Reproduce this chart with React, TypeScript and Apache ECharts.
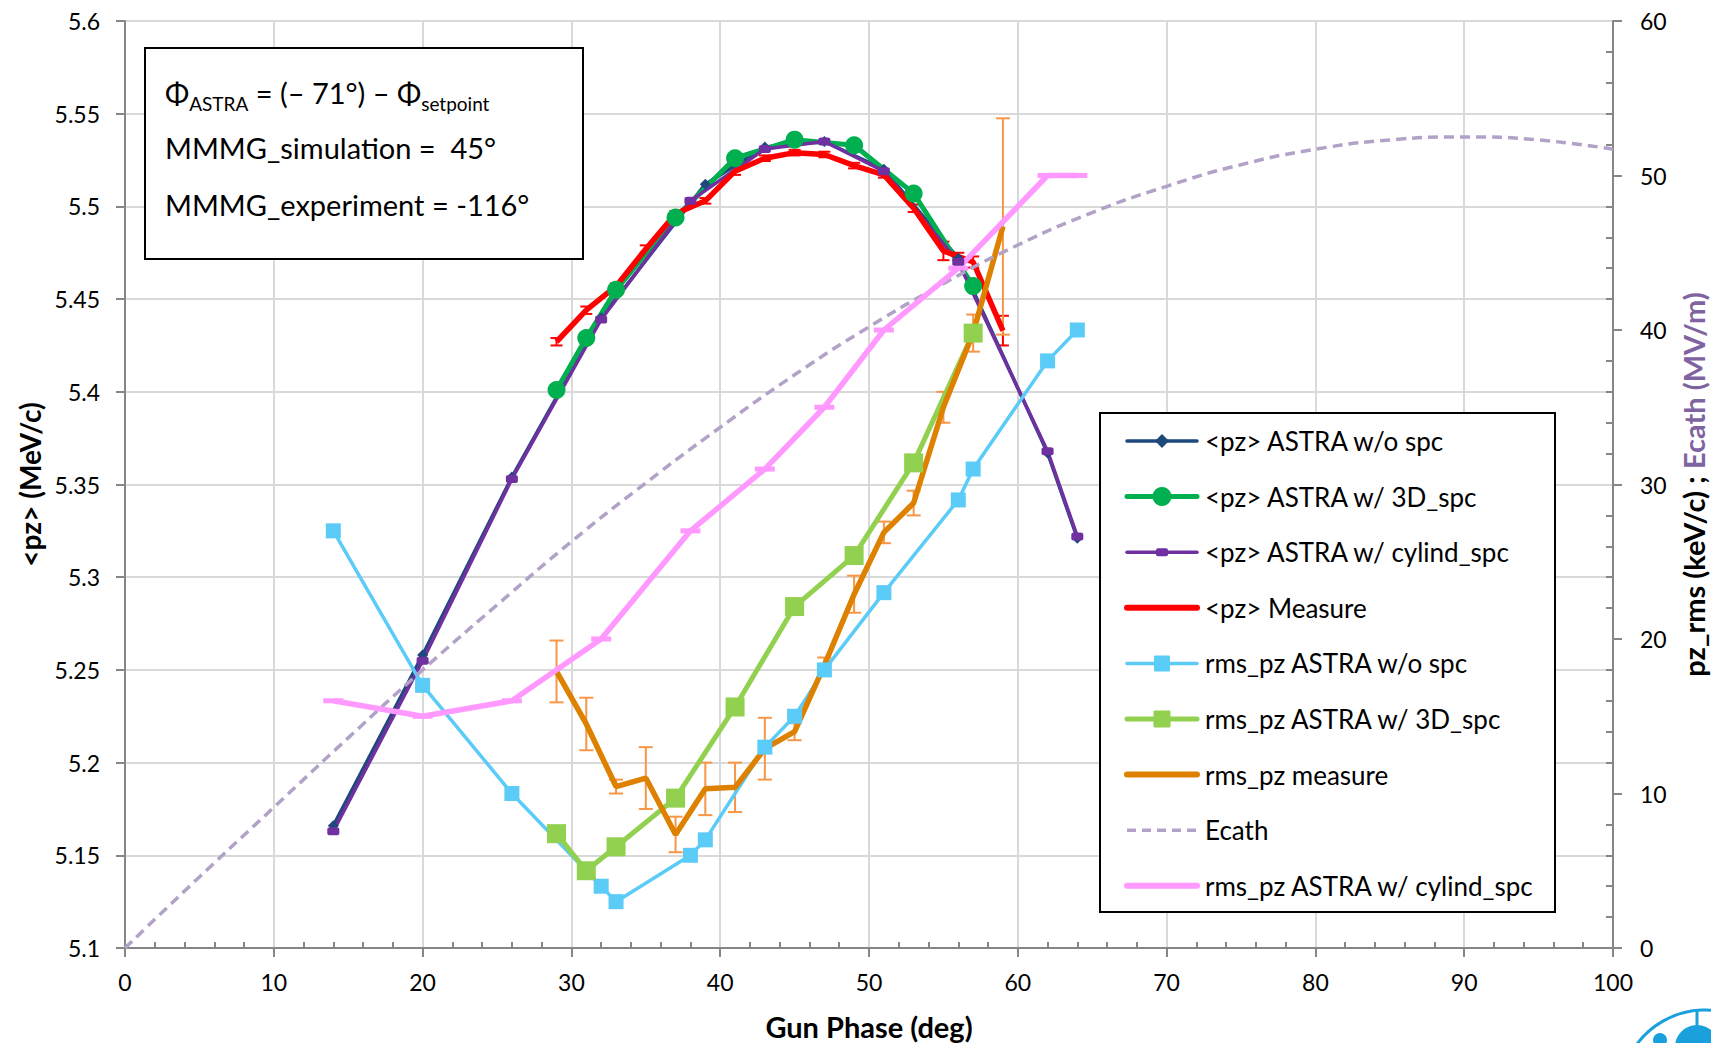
import React, { useEffect, useRef } from "react";
import * as echarts from "echarts";

const W = 1711;
const H = 1043;

// ---------- data ----------
const pzNoSpcX = [14, 20, 26, 32, 39, 43, 47, 51, 56, 62, 64];
const pzNoSpcY = [5.166, 5.258, 5.354, 5.44, 5.512, 5.532, 5.535, 5.52, 5.472, 5.367, 5.321];

const pz3dX = [29, 31, 33, 37, 41, 45, 49, 53, 57];
const pz3dY = [5.401, 5.429, 5.455, 5.494, 5.526, 5.536, 5.533, 5.507, 5.457];

const pzCylX = [14, 20, 26, 32, 38, 43, 47, 51, 56, 62, 64];
const pzCylY = [5.163, 5.255, 5.353, 5.439, 5.503, 5.531, 5.535, 5.519, 5.47, 5.368, 5.322];

const pzMeasX = [29, 31, 33, 35, 37, 39, 41, 43, 45, 47, 49, 51, 53, 55, 56, 57, 59];
const pzMeasY = [5.427, 5.444, 5.457, 5.477, 5.496, 5.503, 5.519, 5.526, 5.529, 5.528, 5.522, 5.517, 5.499, 5.476, 5.473, 5.47, 5.433];
const pzMeasErr = [0.002, 0.002, 0.0015, 0.002, 0.0015, 0.0015, 0.002, 0.0015, 0.0015, 0.0015, 0.0015, 0.0015, 0.002, 0.005, 0.002, 0.003, 0.008];

const rmsNoSpcX = [14, 20, 26, 32, 33, 38, 39, 43, 45, 47, 51, 56, 57, 62, 64];
const rmsNoSpcY = [27.0, 17.0, 10.0, 4.0, 3.0, 6.0, 7.0, 13.0, 15.0, 18.0, 23.0, 29.0, 31.0, 38.0, 40.0];

const rms3dX = [29, 31, 33, 37, 41, 45, 49, 53, 57];
const rms3dY = [7.4, 5.0, 6.55, 9.7, 15.6, 22.1, 25.4, 31.4, 39.8];

const rmsMeasX = [29, 31, 33, 35, 37, 39, 41, 43, 45, 47, 49, 51, 53, 55, 57, 59];
const rmsMeasY = [17.9, 14.5, 10.45, 11.0, 7.35, 10.3, 10.4, 12.9, 14.0, 18.3, 22.9, 26.9, 28.8, 35.0, 39.8, 46.7];
const rmsMeasErr = [2.0, 1.7, 0.45, 2.0, 1.15, 1.7, 1.6, 2.0, 0.55, 0.5, 1.2, 0.7, 0.8, 1.0, 1.2, 7.0];

const ecathX = [0, 5, 10, 15, 20, 25, 30, 35, 40, 45, 50, 55, 60, 65, 70, 75, 80, 85, 90, 95, 100];
const ecathY = [0, 4.6, 9.1, 13.6, 18.0, 22.2, 26.3, 30.1, 33.7, 37.1, 40.2, 43.0, 45.5, 47.6, 49.3, 50.7, 51.7, 52.3, 52.5, 52.3, 51.7];

const rmsCylX = [14, 20, 26, 32, 38, 43, 47, 51, 56, 62, 64];
const rmsCylY = [16, 15, 16, 20, 27, 31, 35, 40, 44, 50, 50];

const xRange = { min: 0, max: 100, step: 10 };
const leftRange = { min: 5.1, max: 5.6, step: 0.05 };
const rightRange = { min: 0, max: 60, step: 10 };

const legendNames = [
  "<pz> ASTRA w/o spc",
  "<pz> ASTRA w/ 3D_spc",
  "<pz> ASTRA w/ cylind_spc",
  "<pz> Measure",
  "rms_pz ASTRA w/o spc",
  "rms_pz ASTRA w/ 3D_spc",
  "rms_pz measure",
  "Ecath",
  "rms_pz ASTRA w/ cylind_spc",
];

// ---------- styles ----------
const FONT = "Lato";
const C = {
  navy: "#1F497D",
  green: "#00B050",
  purple: "#7030A0",
  red: "#FF0000",
  lblue: "#5BCBF8",
  lgreen: "#92D050",
  orange: "#DE8000",
  orangeErr: "#F79646",
  ecath: "#B3A2C7",
  pink: "#FF99FF",
  axis: "#868686",
  grid: "#D9D9D9",
  ecathTitle: "#8064A2",
};

const pair = (xs: number[], ys: number[]) => xs.map((x, i) => [x, ys[i]]);

function errorBars(xs: number[], ys: number[], errs: number[], color: string, width: number, cap: number, yAxisIndex: number) {
  return {
    type: "custom",
    yAxisIndex,
    silent: true,
    data: xs.map((x, i) => [x, ys[i] - errs[i], ys[i] + errs[i]]),
    encode: { x: 0, y: [1, 2] },
    renderItem: (params: any, api: any) => {
      const lo = api.coord([api.value(0), api.value(1)]);
      const hi = api.coord([api.value(0), api.value(2)]);
      const st = { stroke: color, lineWidth: width, fill: null };
      return {
        type: "group",
        children: [
          { type: "line", shape: { x1: lo[0], y1: lo[1], x2: hi[0], y2: hi[1] }, style: st },
          { type: "line", shape: { x1: lo[0] - cap, y1: lo[1], x2: lo[0] + cap, y2: lo[1] }, style: st },
          { type: "line", shape: { x1: hi[0] - cap, y1: hi[1], x2: hi[0] + cap, y2: hi[1] }, style: st },
        ],
      };
    },
  };
}

const ZTOP = 100;

function buildLegend() {
  const x1 = 1127;
  const x2 = 1197;
  const xm = 1162;
  const y0 = 441;
  const dy = 55.6;
  const defs = [
    { color: C.navy, lw: 3.5, marker: "diamond", size: 7 },
    { color: C.green, lw: 5, marker: "circle", size: 9.5 },
    { color: C.purple, lw: 3.5, marker: "smallrect", size: 0 },
    { color: C.red, lw: 6, marker: "none", size: 0 },
    { color: C.lblue, lw: 3.5, marker: "square", size: 8 },
    { color: C.lgreen, lw: 5, marker: "square", size: 8.5 },
    { color: C.orange, lw: 6, marker: "none", size: 0 },
    { color: C.ecath, lw: 3.5, marker: "none", size: 0, dash: [9, 6] },
    { color: C.pink, lw: 6, marker: "none", size: 0 },
  ];
  const children: any[] = [
    {
      type: "rect",
      z: ZTOP,
      shape: { x: 1100, y: 413, width: 455, height: 499 },
      style: { fill: "#fff", stroke: "#000", lineWidth: 2 },
    },
  ];
  defs.forEach((d: any, i) => {
    const y = y0 + i * dy;
    children.push({
      type: "line",
      z: ZTOP + 1,
      shape: { x1, y1: y, x2, y2: y },
      style: { stroke: d.color, lineWidth: d.lw, lineCap: d.dash ? "butt" : "round", lineDash: d.dash || null },
    });
    if (d.marker === "diamond") {
      children.push({
        type: "polygon",
        z: ZTOP + 2,
        shape: { points: [[xm, y - d.size], [xm + d.size, y], [xm, y + d.size], [xm - d.size, y]] },
        style: { fill: d.color },
      });
    } else if (d.marker === "circle") {
      children.push({ type: "circle", z: ZTOP + 2, shape: { cx: xm, cy: y, r: d.size }, style: { fill: d.color } });
    } else if (d.marker === "square") {
      children.push({
        type: "rect",
        z: ZTOP + 2,
        shape: { x: xm - d.size, y: y - d.size, width: 2 * d.size, height: 2 * d.size, r: 1 },
        style: { fill: d.color },
      });
    } else if (d.marker === "smallrect") {
      children.push({
        type: "rect",
        z: ZTOP + 2,
        shape: { x: xm - 6, y: y - 4, width: 12, height: 8, r: 2 },
        style: { fill: d.color },
      });
    }
    children.push({
      type: "text",
      z: ZTOP + 2,
      x: 1205,
      y,
      style: {
        text: legendNames[i],
        fontFamily: FONT,
        fontSize: 26,
        fill: "#000",
        align: "left",
        verticalAlign: "middle",
      },
    });
  });
  return { type: "group", children };
}

function buildNote() {
  const base = { fontFamily: FONT, fontSize: 29, fill: "#000", align: "left", verticalAlign: "middle" };
  return {
    type: "group",
    children: [
      {
        type: "rect",
        z: ZTOP,
        shape: { x: 145, y: 48, width: 438, height: 211 },
        style: { fill: "#fff", stroke: "#000", lineWidth: 2 },
      },
      {
        type: "text",
        z: ZTOP + 1,
        x: 165,
        y: 92,
        style: {
          ...base,
          text: "{m|Φ}{s|ASTRA}{m| = (– 71°) – Φ}{s|setpoint}",
          rich: {
            m: { fontFamily: FONT, fontSize: 29, fill: "#000", lineHeight: 36 },
            s: { fontFamily: FONT, fontSize: 19, fill: "#000", lineHeight: 21, padding: [23, 0, 0, 0] },
          },
        },
      },
      { type: "text", z: ZTOP + 1, x: 165, y: 147, style: { ...base, text: "MMMG_simulation =  45°" } },
      { type: "text", z: ZTOP + 1, x: 165, y: 204, style: { ...base, text: "MMMG_experiment = -116°" } },
    ],
  };
}

function buildLogo() {
  const blue = "#1AA0DC";
  return {
    type: "group",
    children: [
      { type: "circle", z: ZTOP, shape: { cx: 1705, cy: 1095, r: 85 }, style: { fill: null, stroke: blue, lineWidth: 3 } },
      { type: "circle", z: ZTOP, shape: { cx: 1697, cy: 1047, r: 22 }, style: { fill: blue } },
      { type: "line", z: ZTOP, shape: { x1: 1697, y1: 1010, x2: 1697, y2: 1027 }, style: { stroke: blue, lineWidth: 3 } },
      { type: "circle", z: ZTOP, shape: { cx: 1660, cy: 1040, r: 7 }, style: { fill: blue } },
    ],
  };
}

const titleBase = { fontFamily: FONT, fontWeight: "bold", color: "#000" };
const tickLine = { color: C.axis, width: 2 };

const option: any = {
  animation: false,
  backgroundColor: "#fff",
  textStyle: { fontFamily: FONT },
  grid: { left: 125, right: 98, top: 21, bottom: 95, containLabel: false, outerBoundsMode: "none" },
  xAxis: [
    {
      type: "value",
      min: xRange.min,
      max: xRange.max,
      interval: xRange.step,
      position: "bottom",
      axisLine: { show: true, onZero: false, lineStyle: tickLine },
      axisTick: { show: true, inside: false, length: 9, lineStyle: tickLine },
      axisLabel: { color: "#000", fontSize: 23, margin: 22, fontFamily: FONT },
      splitLine: { show: true, lineStyle: { color: C.grid, width: 2 } },
      name: "Gun Phase (deg)",
      nameLocation: "middle",
      nameGap: 64,
      nameTextStyle: { ...titleBase, fontSize: 29 },
    },
    {
      type: "value",
      min: xRange.min,
      max: xRange.max,
      interval: xRange.step,
      position: "bottom",
      axisLine: { show: false, onZero: false },
      axisTick: { show: false, inside: true },
      minorTick: { show: true, splitNumber: 5, length: 6, lineStyle: tickLine },
      axisLabel: { show: false },
      splitLine: { show: false },
    },
  ],
  yAxis: [
    {
      type: "value",
      min: leftRange.min,
      max: leftRange.max,
      interval: leftRange.step,
      position: "left",
      axisLine: { show: true, onZero: false, lineStyle: tickLine },
      axisTick: { show: true, inside: false, length: 9, lineStyle: tickLine },
      axisLabel: {
        color: "#000",
        fontSize: 23,
        margin: 25,
        fontFamily: FONT,
        formatter: (v: number) => String(+v.toFixed(2)),
      },
      splitLine: { show: true, lineStyle: { color: C.grid, width: 2 } },
      name: "<pz> (MeV/c)",
      nameLocation: "middle",
      nameRotate: 90,
      nameGap: 78,
      nameTextStyle: { ...titleBase, fontSize: 28 },
    },
    {
      type: "value",
      min: rightRange.min,
      max: rightRange.max,
      interval: rightRange.step,
      position: "right",
      axisLine: { show: true, onZero: false, lineStyle: tickLine },
      axisTick: { show: true, inside: false, length: 9, lineStyle: tickLine },
      axisLabel: { color: "#000", fontSize: 23, margin: 27, fontFamily: FONT },
      splitLine: { show: false },
      name: "{a|pz_rms (keV/c) ; }{b|Ecath (MV/m)}",
      nameLocation: "middle",
      nameRotate: 90,
      nameGap: 66,
      nameTextStyle: {
        ...titleBase,
        fontSize: 29,
        rich: {
          a: { ...titleBase, fontSize: 29 },
          b: { ...titleBase, fontSize: 29, color: C.ecathTitle },
        },
      },
    },
    {
      type: "value",
      min: rightRange.min,
      max: rightRange.max,
      interval: rightRange.step,
      position: "right",
      axisLine: { show: false, onZero: false },
      axisTick: { show: false, inside: true },
      minorTick: { show: true, splitNumber: 5, length: 7, lineStyle: tickLine },
      axisLabel: { show: false },
      splitLine: { show: false },
    },
  ],
  series: [
    {
      name: legendNames[0],
      type: "line",
      yAxisIndex: 0,
      data: pair(pzNoSpcX, pzNoSpcY),
      symbol: "diamond",
      symbolSize: 11,
      itemStyle: { color: C.navy },
      lineStyle: { color: C.navy, width: 3.5 },
    },
    {
      name: legendNames[1],
      type: "line",
      yAxisIndex: 0,
      data: pair(pz3dX, pz3dY),
      symbol: "circle",
      symbolSize: 18,
      itemStyle: { color: C.green },
      lineStyle: { color: C.green, width: 5 },
    },
    {
      name: legendNames[2],
      type: "line",
      yAxisIndex: 0,
      data: pair(pzCylX, pzCylY),
      symbol: "roundRect",
      symbolSize: [12, 8],
      itemStyle: { color: C.purple },
      lineStyle: { color: C.purple, width: 3.5 },
    },
    {
      name: legendNames[3],
      type: "line",
      yAxisIndex: 0,
      data: pair(pzMeasX, pzMeasY),
      symbol: "none",
      itemStyle: { color: C.red },
      lineStyle: { color: C.red, width: 5.5 },
    },
    errorBars(pzMeasX, pzMeasY, pzMeasErr, C.red, 2, 6, 0),
    {
      name: legendNames[4],
      type: "line",
      yAxisIndex: 1,
      data: pair(rmsNoSpcX, rmsNoSpcY),
      symbol: "rect",
      symbolSize: 15,
      itemStyle: { color: C.lblue },
      lineStyle: { color: C.lblue, width: 3.5 },
    },
    {
      name: legendNames[5],
      type: "line",
      yAxisIndex: 1,
      data: pair(rms3dX, rms3dY),
      symbol: "rect",
      symbolSize: 19,
      itemStyle: { color: C.lgreen },
      lineStyle: { color: C.lgreen, width: 5 },
    },
    {
      name: legendNames[6],
      type: "line",
      yAxisIndex: 1,
      data: pair(rmsMeasX, rmsMeasY),
      symbol: "none",
      itemStyle: { color: C.orange },
      lineStyle: { color: C.orange, width: 5.5 },
    },
    errorBars(rmsMeasX, rmsMeasY, rmsMeasErr, C.orangeErr, 2, 7, 1),
    {
      name: legendNames[7],
      type: "line",
      yAxisIndex: 1,
      data: pair(ecathX, ecathY),
      smooth: true,
      symbol: "none",
      itemStyle: { color: C.ecath },
      lineStyle: { color: C.ecath, width: 3.5, type: [10, 6] },
    },
    {
      name: legendNames[8],
      type: "line",
      yAxisIndex: 1,
      data: pair(rmsCylX, rmsCylY),
      symbol: "rect",
      symbolSize: [20, 5],
      itemStyle: { color: C.pink },
      lineStyle: { color: C.pink, width: 5.5 },
    },
  ],
  graphic: [buildNote(), buildLegend(), buildLogo()],
};

const App = () => {
  const ref = useRef<HTMLDivElement>(null);
  useEffect(() => {
    if (!ref.current) return;
    const chart = echarts.init(ref.current, null, { renderer: "svg", width: W, height: H });
    chart.setOption(option);
    return () => chart.dispose();
  }, []);
  return (
    <div
      ref={ref}
      style={{ position: "fixed", left: 0, top: 0, width: W, height: H, background: "#fff" }}
    />
  );
};

export default App;
